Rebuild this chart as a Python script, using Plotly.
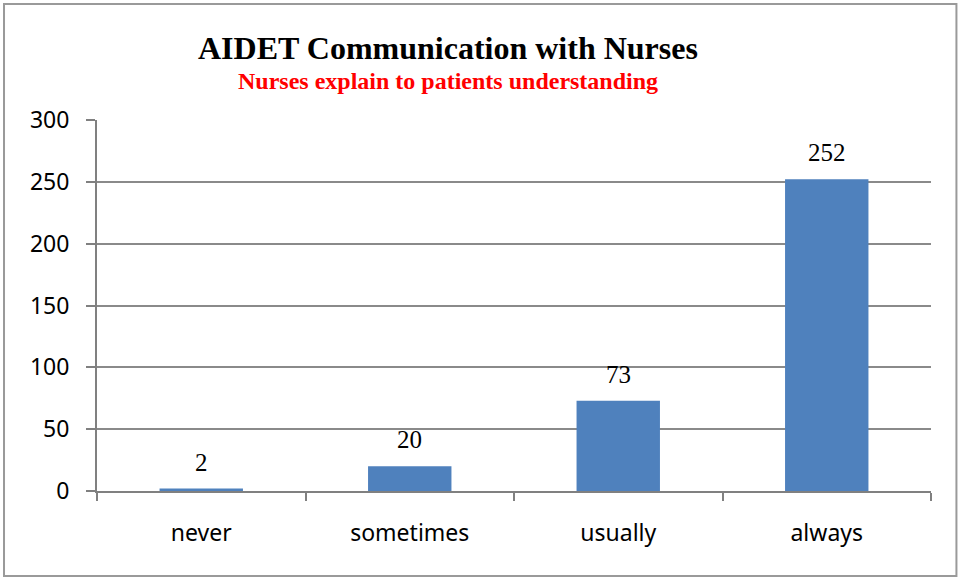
import plotly.graph_objects as go

categories = ["never", "sometimes", "usually", "always"]
counts = [2, 20, 73, 252]
y_ticks = [0, 50, 100, 150, 200, 250, 300]

title_text = "AIDET Communication with Nurses"
subtitle_text = "Nurses explain to patients understanding"

fig = go.Figure()
fig.add_trace(go.Bar(
    x=categories, y=counts,
    marker=dict(color="#4F81BD", line=dict(width=0)),
    width=0.4,
    showlegend=False,
))

# value labels above the bars
for c, v in zip(categories, counts):
    fig.add_annotation(x=c, y=v, text=str(v), showarrow=False,
                       yanchor="bottom", yshift=11,
                       font=dict(family="Liberation Serif", size=25, color="black"))

# titles, centred a bit left of the plot area
title_x = (448 - 97) / 834
fig.add_annotation(x=title_x, y=1.194, xref="paper", yref="paper",
                   xanchor="center", yanchor="middle",
                   text="<b>" + title_text + "</b>", showarrow=False,
                   font=dict(family="Liberation Serif", size=32, color="black"))
fig.add_annotation(x=title_x, y=1.105, xref="paper", yref="paper",
                   xanchor="center", yanchor="middle",
                   text="<b>" + subtitle_text + "</b>", showarrow=False,
                   font=dict(family="Liberation Serif", size=24, color="#FF0000"))

# outer chart border
fig.add_shape(type="rect", xref="paper", yref="paper",
              x0=-0.1115, x1=1.0305, y0=-0.229, y1=1.313,
              line=dict(color="#9a9a9a", width=2))

fig.update_layout(
    width=959, height=578,
    margin=dict(l=97, r=28, t=120, b=87),
    paper_bgcolor="white", plot_bgcolor="white",
)
fig.update_xaxes(
    showline=True, linecolor="#808080", linewidth=2,
    ticks="outside", tickson="boundaries", ticklen=8, tickcolor="#808080", tickwidth=2,
    tickfont=dict(family="Noto Sans", size=23, color="black"),
    ticklabelstandoff=20,
    showgrid=False,
)
fig.update_yaxes(
    range=[0, 300], tickvals=y_ticks,
    showline=True, linecolor="#808080", linewidth=2,
    ticks="outside", ticklen=9, tickcolor="#808080", tickwidth=2,
    showgrid=True, gridcolor="#8a8a8a", gridwidth=2,
    zeroline=False,
    tickfont=dict(family="Noto Sans", size=23, color="black"),
    ticklabelstandoff=12,
)

fig.write_html("out.html", config={"displayModeBar": False},
               post_script="document.body.style.margin='0';")
